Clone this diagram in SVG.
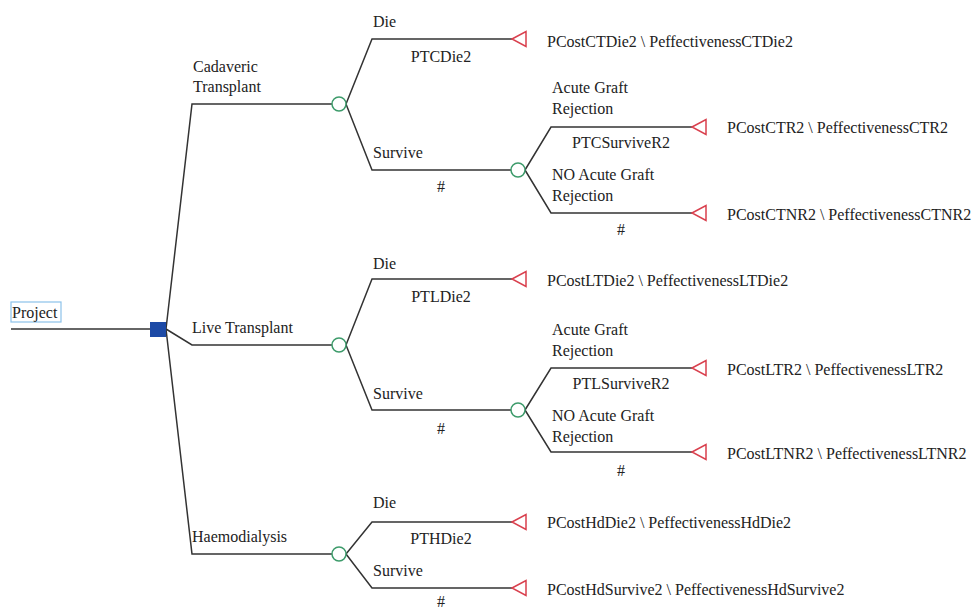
<svg xmlns="http://www.w3.org/2000/svg" width="976" height="611" viewBox="0 0 976 611">
<style>
text{font-family:"Liberation Serif","Times New Roman",serif;font-size:16px;fill:#222}
.c{text-anchor:middle}
.ln{fill:none;stroke:#333;stroke-width:1.5}
.ch{fill:#fff;stroke:#3d9b6b;stroke-width:1.5}
.tm{fill:#fff;stroke:#d9404e;stroke-width:1.5}
</style>
<rect width="976" height="611" fill="#fff"/>
<g id="connectors">
<path class="ln" d="M11,329 H150"/>
<path class="ln" d="M166,329 L192,104 H332"/>
<path class="ln" d="M166,329 L192,345 H332"/>
<path class="ln" d="M166,329 L192,554 H332"/>
<path class="ln" d="M346,104 L372,39 H512"/>
<path class="ln" d="M346,104 L372,170 H511"/>
<path class="ln" d="M525,170 L551,127 H692"/>
<path class="ln" d="M525,170 L551,213 H692"/>
<path class="ln" d="M346,345 L372,279 H512"/>
<path class="ln" d="M346,345 L372,410 H511"/>
<path class="ln" d="M525,410 L551,368 H692"/>
<path class="ln" d="M525,410 L551,452 H692"/>
<path class="ln" d="M346,554 L372,522 H512"/>
<path class="ln" d="M346,554 L372,588 H512"/>
</g>
<g id="project">
<rect x="11" y="302" width="50" height="20" fill="#fff" stroke="#8cc2ea" stroke-width="1.2"/>
<text x="12" y="318">Project</text>
</g>
<g id="decision"><rect x="150" y="322" width="16" height="15" fill="#1d4aa6"/></g>
<g id="cadaveric">
<text x="193" y="72">Cadaveric</text><text x="193" y="92">Transplant</text>
<circle class="ch" cx="339" cy="104" r="7"/>
</g>
<g id="live">
<text x="192" y="333">Live Transplant</text>
<circle class="ch" cx="339" cy="345" r="7"/>
</g>
<g id="haemo">
<text x="192" y="542">Haemodialysis</text>
<circle class="ch" cx="339" cy="554" r="7"/>
</g>
<g id="ct-die">
<text x="373" y="27">Die</text><text class="c" x="441" y="62">PTCDie2</text>
<polygon class="tm" points="512,39 526,31.5 526,46.5"/>
<text x="547" y="47">PCostCTDie2 \ PeffectivenessCTDie2</text>
</g>
<g id="ct-survive">
<text x="373" y="158">Survive</text><text class="c" x="441" y="192">#</text>
<circle class="ch" cx="518" cy="170" r="7"/>
</g>
<g id="ct-r">
<text x="552" y="93">Acute Graft</text><text x="552" y="114">Rejection</text>
<text class="c" x="621" y="148">PTCSurviveR2</text>
<polygon class="tm" points="692,127 706,119.5 706,134.5"/>
<text x="727" y="133">PCostCTR2 \ PeffectivenessCTR2</text>
</g>
<g id="ct-nr">
<text x="552" y="180">NO Acute Graft</text><text x="552" y="201">Rejection</text>
<text class="c" x="621" y="235">#</text>
<polygon class="tm" points="692,213 706,205.5 706,220.5"/>
<text x="727" y="220">PCostCTNR2 \ PeffectivenessCTNR2</text>
</g>
<g id="lt-die">
<text x="373" y="269">Die</text><text class="c" x="441" y="302">PTLDie2</text>
<polygon class="tm" points="512,279 526,271.5 526,286.5"/>
<text x="547" y="286">PCostLTDie2 \ PeffectivenessLTDie2</text>
</g>
<g id="lt-survive">
<text x="373" y="399">Survive</text><text class="c" x="441" y="434">#</text>
<circle class="ch" cx="518" cy="410" r="7"/>
</g>
<g id="lt-r">
<text x="552" y="335">Acute Graft</text><text x="552" y="356">Rejection</text>
<text class="c" x="621" y="389">PTLSurviveR2</text>
<polygon class="tm" points="692,368 706,360.5 706,375.5"/>
<text x="727" y="375">PCostLTR2 \ PeffectivenessLTR2</text>
</g>
<g id="lt-nr">
<text x="552" y="421">NO Acute Graft</text><text x="552" y="442">Rejection</text>
<text class="c" x="621" y="476">#</text>
<polygon class="tm" points="692,452 706,444.5 706,459.5"/>
<text x="727" y="459">PCostLTNR2 \ PeffectivenessLTNR2</text>
</g>
<g id="hd-die">
<text x="373" y="508">Die</text><text class="c" x="441" y="544">PTHDie2</text>
<polygon class="tm" points="512,522 526,514.5 526,529.5"/>
<text x="547" y="528">PCostHdDie2 \ PeffectivenessHdDie2</text>
</g>
<g id="hd-survive">
<text x="373" y="576">Survive</text><text class="c" x="441" y="607">#</text>
<polygon class="tm" points="512,588 526,580.5 526,595.5"/>
<text x="547" y="595">PCostHdSurvive2 \ PeffectivenessHdSurvive2</text>
</g>
</svg>
